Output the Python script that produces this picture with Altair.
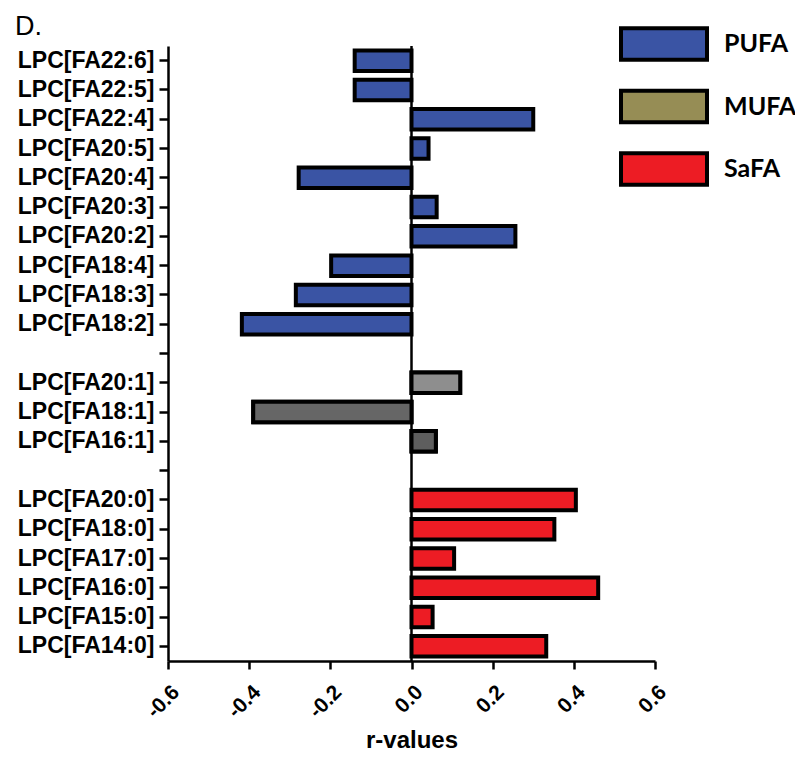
import altair as alt
import pandas as pd

categories = ["LPC[FA22:6]", "LPC[FA22:5]", "LPC[FA22:4]", "LPC[FA20:5]", "LPC[FA20:4]",
              "LPC[FA20:3]", "LPC[FA20:2]", "LPC[FA18:4]", "LPC[FA18:3]", "LPC[FA18:2]",
              "LPC[FA20:1]", "LPC[FA18:1]", "LPC[FA16:1]",
              "LPC[FA20:0]", "LPC[FA18:0]", "LPC[FA17:0]", "LPC[FA16:0]", "LPC[FA15:0]", "LPC[FA14:0]"]
values = [-0.14, -0.14, 0.30, 0.042, -0.278,
          0.062, 0.256, -0.198, -0.285, -0.418,
          0.12, -0.39, 0.06,
          0.405, 0.352, 0.105, 0.46, 0.052, 0.332]
groups = ["PUFA"] * 10 + ["MUFA"] * 3 + ["SaFA"] * 6
bar_fills = ["#3A54A4"] * 10 + ["#8E8E8E", "#666666", "#5E5E5E"] + ["#ED1C24"] * 6

axis_order = categories[:10] + ["sep1"] + categories[10:13] + ["sep2"] + categories[13:]
legend_groups = ["PUFA", "MUFA", "SaFA"]
legend_colors = ["#3A54A4", "#968D55", "#ED1C24"]
x_ticks = [-0.6, -0.4, -0.2, 0.0, 0.2, 0.4, 0.6]

df = pd.DataFrame({"cat": categories, "r": values, "group": groups, "fillhex": bar_fills})

y_enc = alt.Y("cat:N", sort=None,
              scale=alt.Scale(domain=axis_order, paddingInner=0.3, paddingOuter=0.15),
              axis=alt.Axis(title=None, labelExpr="indexof(datum.value, 'sep') == 0 ? '' : datum.value",
                            labelFontSize=23, labelPadding=5, tickSize=9))
x_enc = alt.X("r:Q", scale=alt.Scale(domain=[-0.6, 0.6], nice=False),
              axis=alt.Axis(title="r-values", values=x_ticks, format=".1f", labelAngle=-45,
                            labelExpr="replace(datum.label, '\u2212', '-')",
                            labelFontSize=21, labelPadding=12, tickSize=8,
                            titleFontSize=24, titleFontWeight="bold",
                            titleFont="Liberation Sans", titlePadding=7, grid=False))

base = alt.Chart(df)
bars = base.mark_bar(stroke="black", strokeWidth=4, size=20.5).encode(
    y=y_enc, x=x_enc,
    fill=alt.Fill("group:N", scale=alt.Scale(domain=legend_groups, range=legend_colors),
                  legend=alt.Legend(title=None, orient="none", legendX=451, legendY=-22,
                                    symbolType="M-1,-0.368H1V0.368H-1Z", symbolSize=7396,
                                    symbolStrokeColor="black", symbolStrokeWidth=4,
                                    symbolOpacity=1, labelFont="Lato", labelFontWeight="bold",
                                    labelFontSize=25, labelColor="black", labelOffset=15,
                                    clipHeight=40, rowPadding=22.5, padding=0)),
)
overlay = base.transform_filter(alt.datum.group == "MUFA").mark_bar(
    stroke="black", strokeWidth=4, size=20.5).encode(
    y=y_enc, x=x_enc, fill=alt.Fill("fillhex:N", scale=None, legend=None))

zero = alt.Chart(pd.DataFrame({"z": [0.0]})).mark_rule(color="black", strokeWidth=2.5).encode(
    x=alt.X("z:Q", scale=alt.Scale(domain=[-0.6, 0.6], nice=False)))

chart = alt.layer(bars, overlay, zero).properties(
    width=487, height=615,
    autosize="none",
    padding={"left": 160, "top": 38, "right": 140, "bottom": 95},
    title=alt.Title("D.", anchor="start", frame="group", fontSize=27, font="Liberation Sans",
                    fontWeight="normal", color="black", dx=-153, dy=31, offset=14),
).configure_view(stroke=None).configure_axis(
    domainColor="black", domainWidth=2.5, tickColor="black", tickWidth=2.5,
    labelColor="black", labelFont="Liberation Sans", labelFontWeight="bold", titleColor="black",
)

chart.save("out.html", embed_options={"renderer": "svg", "actions": False})
